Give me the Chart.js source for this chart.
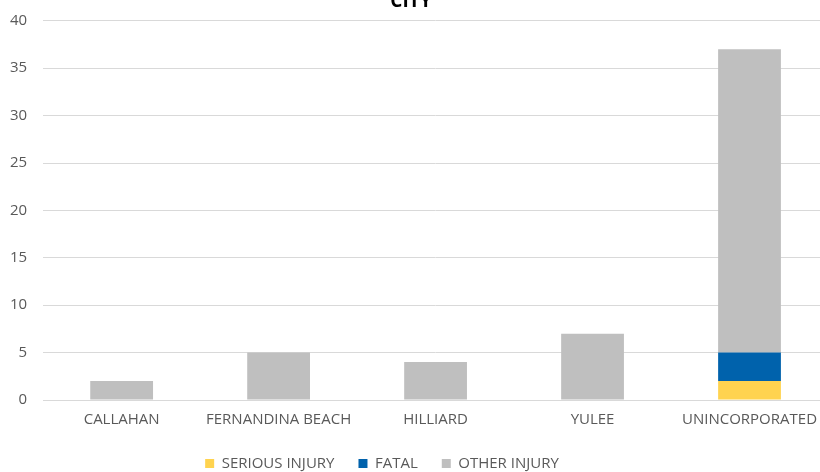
<!DOCTYPE html>
<html lang="en">
<head>
    <meta charset="UTF-8">
    <title>City</title>
    <script src="https://cdn.jsdelivr.net/npm/chart.js"></script>
    <style>
        html, body { margin: 0; padding: 0; background: #fff; overflow: hidden; }
        #wrap { position: absolute; left: 0; top: -10px; width: 828px; height: 491px; }
    </style>
</head>
<body>
    <div id="wrap"><canvas id="cityChart"></canvas></div>

    <script>
        const cities = ['CALLAHAN', 'FERNANDINA BEACH', 'HILLIARD', 'YULEE', 'UNINCORPORATED'];
        const seriousInjury = [0, 0, 0, 0, 2];
        const fatal = [0, 0, 0, 0, 3];
        const otherInjury = [2, 5, 4, 7, 32];
        const yTicks = [0, 5, 10, 15, 20, 25, 30, 35, 40];

        const font = "'Open Sans', 'Noto Sans', sans-serif";

        // the legend in the picture sits left of centre, nudge it over
        const legendShift = {
            id: 'legendShift',
            afterLayout(chart) {
                chart.legend.left -= 29;
                chart.legend.right -= 29;
            }
        };

        new Chart(document.getElementById('cityChart'), {
            type: 'bar',
            data: {
                labels: cities,
                datasets: [
                    { label: 'SERIOUS INJURY', data: seriousInjury, backgroundColor: '#FFD34F' },
                    { label: 'FATAL', data: fatal, backgroundColor: '#0062AC' },
                    { label: 'OTHER INJURY', data: otherInjury, backgroundColor: '#BFBFBF' }
                ]
            },
            plugins: [legendShift],
            options: {
                responsive: true,
                maintainAspectRatio: false,
                animation: false,
                layout: { padding: { left: -6, right: 0, top: 0, bottom: 0 } },
                datasets: { bar: { categoryPercentage: 0.4, barPercentage: 1 } },
                plugins: {
                    title: {
                        display: true,
                        text: 'CITY',
                        color: '#000',
                        font: { family: font, size: 19, weight: 'bold' },
                        padding: { top: 0, bottom: 8 }
                    },
                    legend: {
                        position: 'bottom',
                        labels: {
                            color: '#595959',
                            font: { family: font, size: 15 },
                            boxWidth: 9,
                            boxHeight: 9,
                            padding: 24
                        }
                    },
                    tooltip: { enabled: false }
                },
                scales: {
                    x: {
                        stacked: true,
                        grid: { display: false },
                        border: { color: '#D9D9D9', width: 1 },
                        ticks: { color: '#595959', font: { family: font, size: 15 }, padding: 3 }
                    },
                    y: {
                        stacked: true,
                        min: 0,
                        max: 40,
                        afterBuildTicks: axis => { axis.ticks = yTicks.map(v => ({ value: v })); },
                        grid: { color: '#D9D9D9', drawTicks: false },
                        border: { display: false },
                        ticks: { color: '#595959', font: { family: font, size: 15 }, padding: 16 }
                    }
                }
            }
        });
    </script>
</body>
</html>
